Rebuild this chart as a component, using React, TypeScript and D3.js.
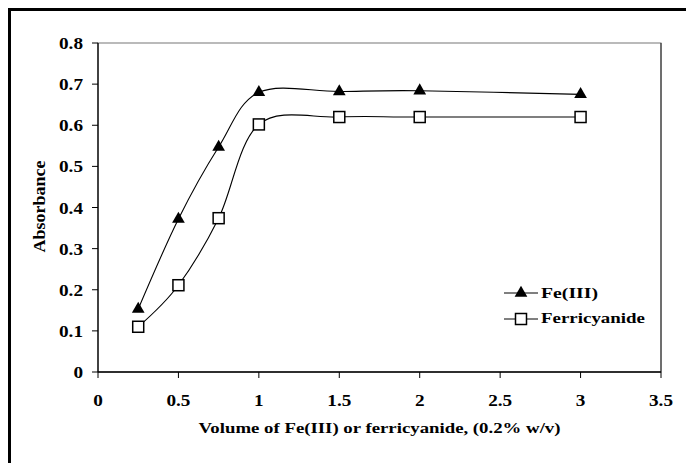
import React from 'react';
import * as d3 from 'd3';

// volumes (mL) and absorbance readings
const volumes = [0.25, 0.5, 0.75, 1, 1.5, 2, 3];
const feValues = [0.153, 0.372, 0.547, 0.68, 0.682, 0.684, 0.675];
const ferriValues = [0.11, 0.211, 0.374, 0.602, 0.62, 0.62, 0.62];
const xTicks = [0, 0.5, 1, 1.5, 2, 2.5, 3, 3.5];
const yTicks = [0, 0.1, 0.2, 0.3, 0.4, 0.5, 0.6, 0.7, 0.8];
const seriesNames = ['Fe(III)', 'Ferricyanide'];

const W = 686;
const H = 463;
const left = 98, right = 661, top = 43, bottom = 372;
const FONT = 'Liberation Serif, Times New Roman, Times, serif';

const App = () => {
  const x = d3.scaleLinear().domain([0, 3.5]).range([left, right]);
  const y = d3.scaleLinear().domain([0, 0.8]).range([bottom, top]);

  const line = d3.line<number>()
    .x((d, i) => x(volumes[i]))
    .y(d => y(d))
    .curve(d3.curveCatmullRom.alpha(0));

  const tri = d3.symbol().type(d3.symbolTriangle).size(70);
  const sq = 11;

  const tickFmt = (v: number) => (v === 0 ? '0' : String(+v.toFixed(1)));

  return (
    <svg width={W} height={H} style={{ position: 'absolute', left: 0, top: 0, background: '#fff', fontFamily: FONT, fontWeight: 'bold' }}>
      {/* outer chart border, runs off the canvas at right/bottom */}
      <rect x={9.5} y={9.5} width={720} height={500} fill="none" stroke="#000" strokeWidth={3} />

      {/* plot area border */}
      <rect x={left} y={top} width={right - left} height={bottom - top} fill="none" stroke="#777" strokeWidth={1} />
      <line x1={right} x2={right} y1={top} y2={bottom} stroke="#222" strokeWidth={1} />

      {/* axes */}
      <line x1={left} x2={left} y1={top} y2={bottom} stroke="#000" strokeWidth={1.3} />
      <line x1={left} x2={right} y1={bottom} y2={bottom} stroke="#000" strokeWidth={1.3} />

      {yTicks.map(t => (
        <g key={'y' + t}>
          <line x1={left - 6} x2={left} y1={y(t)} y2={y(t)} stroke="#000" />
          <text transform={`translate(${83},${y(t) + 6}) scale(1.2,1)`} textAnchor="end" fontSize={16}>{tickFmt(t)}</text>
        </g>
      ))}
      {xTicks.map(t => (
        <g key={'x' + t}>
          <line x1={x(t)} x2={x(t)} y1={bottom} y2={bottom + 6} stroke="#000" />
          <text transform={`translate(${x(t)},${406}) scale(1.2,1)`} textAnchor="middle" fontSize={16}>{tickFmt(t)}</text>
        </g>
      ))}

      <text x={(left + right) / 2} y={433} textAnchor="middle" fontSize={15} textLength={362} lengthAdjust="spacingAndGlyphs">
        Volume of Fe(III) or ferricyanide, (0.2% w/v)
      </text>
      <text transform={`translate(45,${(top + bottom) / 2 - 1}) rotate(-90)`} textAnchor="middle" fontSize={17}
        textLength={92} lengthAdjust="spacingAndGlyphs">Absorbance</text>

      {/* series lines */}
      <path d={line(feValues) || ''} fill="none" stroke="#000" strokeWidth={1.1} />
      <path d={line(ferriValues) || ''} fill="none" stroke="#000" strokeWidth={1.1} />

      {feValues.map((v, i) => (
        <path key={'f' + i} d={tri() || ''} transform={`translate(${x(volumes[i])},${y(v)})`} fill="#000" />
      ))}
      {ferriValues.map((v, i) => (
        <rect key={'c' + i} x={x(volumes[i]) - sq / 2} y={y(v) - sq / 2} width={sq} height={sq}
          fill="#fff" stroke="#000" strokeWidth={1.5} />
      ))}

      {/* legend */}
      <g>
        <line x1={504} x2={538} y1={293} y2={293} stroke="#000" />
        <path d={tri() || ''} transform="translate(521,293)" fill="#000" />
        <text x={541} y={298} fontSize={15} textLength={57} lengthAdjust="spacingAndGlyphs">{seriesNames[0]}</text>
        <line x1={504} x2={538} y1={319} y2={319} stroke="#000" />
        <rect x={521 - sq / 2} y={319 - sq / 2} width={sq} height={sq} fill="#fff" stroke="#000" strokeWidth={1.5} />
        <text x={541} y={323} fontSize={15} textLength={104} lengthAdjust="spacingAndGlyphs">{seriesNames[1]}</text>
      </g>
    </svg>
  );
};

export default App;
